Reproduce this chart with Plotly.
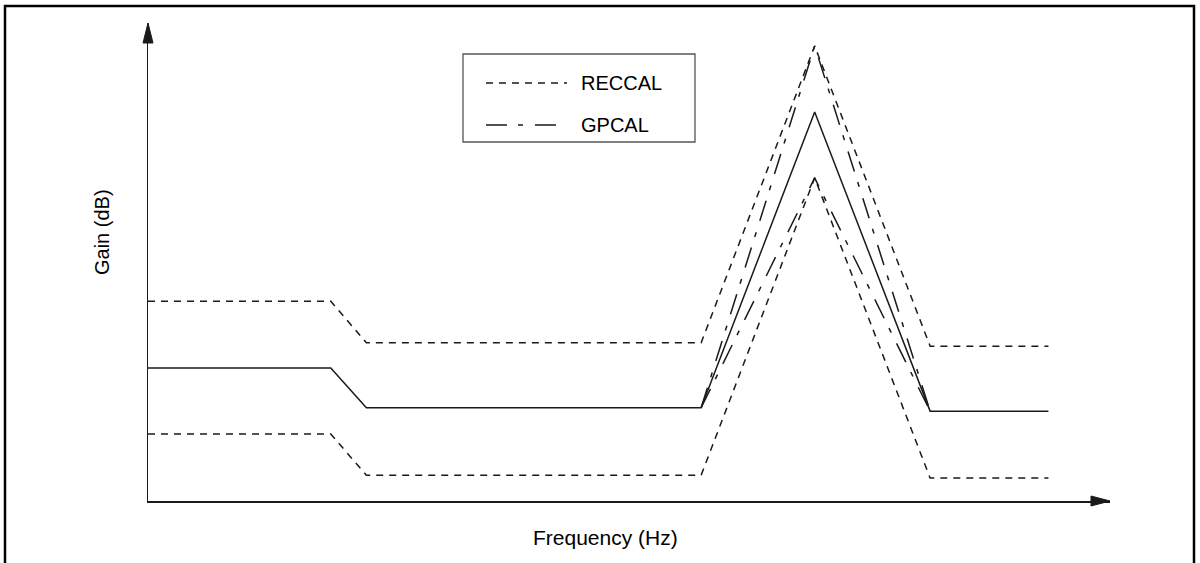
import plotly.graph_objects as go

# ---- data (arbitrary units) ----
freq = [0.0, 19.0, 22.7, 57.5, 69.3, 81.3, 93.6]
nominal = [27.8, 27.8, 19.5, 19.5, 81.4, 18.8, 18.8]
reccal_upper = [41.8, 41.8, 33.1, 33.1, 95.2, 32.4, 32.4]
reccal_lower = [14.0, 14.0, 5.4, 5.4, 67.6, 4.8, 4.8]

gp_freq = [57.5, 69.3, 81.3]
gpcal_upper = [19.5, 95.2, 18.8]
gpcal_lower = [19.5, 67.6, 18.8]

legend_labels = ["RECCAL", "GPCAL"]
x_title = "Frequency (Hz)"
y_title = "Gain (dB)"

INK = "#1a1a1a"
FONT = "Liberation Sans, Arial, sans-serif"
RECCAL_DASH = "7px,6px"
GPCAL_DASH = "21px,11px,5px,12px"

fig = go.Figure()
fig.add_trace(go.Scatter(x=freq, y=reccal_upper, mode="lines", name="RECCAL",
                         legendgroup="reccal", showlegend=False,
                         line=dict(color=INK, width=1.5, dash=RECCAL_DASH)))
fig.add_trace(go.Scatter(x=freq, y=reccal_lower, mode="lines", name="RECCAL",
                         legendgroup="reccal", showlegend=False,
                         line=dict(color=INK, width=1.5, dash=RECCAL_DASH)))
fig.add_trace(go.Scatter(x=gp_freq, y=gpcal_upper, mode="lines", name="GPCAL",
                         legendgroup="gpcal", showlegend=False,
                         line=dict(color=INK, width=1.5, dash=GPCAL_DASH)))
fig.add_trace(go.Scatter(x=gp_freq, y=gpcal_lower, mode="lines", name="GPCAL",
                         legendgroup="gpcal", showlegend=False,
                         line=dict(color=INK, width=1.5, dash=GPCAL_DASH)))
fig.add_trace(go.Scatter(x=freq, y=nominal, mode="lines", name="Nominal",
                         showlegend=False,
                         line=dict(color=INK, width=1.5)))

L, R, T, B = 148, 90, 23, 62
W, H = 1200, 563
pw, ph = W - L - R, H - T - B

def px_x(p):
    return (p - L) / pw

def px_y(p):
    return (H - B - p) / ph

shapes = [
    # outer frame
    dict(type="rect", xref="paper", yref="paper",
         x0=px_x(5), x1=px_x(1194), y0=px_y(575), y1=px_y(6),
         line=dict(color="black", width=2.5), fillcolor="rgba(0,0,0,0)", layer="below"),
    # arrowhead on x axis
    dict(type="path", xref="paper", yref="paper", xsizemode="pixel", ysizemode="pixel",
         xanchor=1, yanchor=0, path="M0,0 L-19,5 L-19,-5 Z",
         fillcolor=INK, line=dict(color=INK, width=1)),
    # arrowhead on y axis
    dict(type="path", xref="paper", yref="paper", xsizemode="pixel", ysizemode="pixel",
         xanchor=0, yanchor=1, path="M0,0 L-5,-20 L5,-20 Z",
         fillcolor=INK, line=dict(color=INK, width=1)),
    # legend box
    dict(type="rect", xref="paper", yref="paper",
         x0=px_x(463), x1=px_x(695), y0=px_y(142), y1=px_y(54),
         line=dict(color="#555555", width=1.3), fillcolor="white", layer="below"),
]
annotations = [
    dict(text=x_title, xref="paper", yref="paper", x=px_x(605), y=px_y(537),
         showarrow=False, xanchor="center", yanchor="middle",
         font=dict(family=FONT, size=21, color="black")),
    dict(text=y_title, xref="paper", yref="paper", x=px_x(102), y=px_y(232),
         showarrow=False, xanchor="center", yanchor="middle", textangle=-90,
         font=dict(family=FONT, size=20, color="black")),
]

# legend entries: sample line + label
legend_rows = [(83, RECCAL_DASH, 567), (125, GPCAL_DASH, 559)]
for label, (ypx, dash, xend) in zip(legend_labels, legend_rows):
    shapes.append(dict(type="line", xref="paper", yref="paper",
                       x0=px_x(486), x1=px_x(xend), y0=px_y(ypx), y1=px_y(ypx),
                       line=dict(color=INK, width=1.5, dash=dash)))
    annotations.append(dict(text=label, xref="paper", yref="paper",
                            x=px_x(579), y=px_y(ypx), showarrow=False,
                            xanchor="left", yanchor="middle",
                            font=dict(family=FONT, size=20, color="black")))

fig.update_layout(
    width=W, height=H, autosize=False,
    margin=dict(l=L, r=R, t=T, b=B, pad=0),
    paper_bgcolor="white", plot_bgcolor="white",
    font=dict(family=FONT, size=20, color="black"),
    xaxis=dict(range=[0, 100], showgrid=False, zeroline=False, showticklabels=False,
               ticks="", showline=True, linecolor=INK, linewidth=1.5, fixedrange=True),
    yaxis=dict(range=[0, 100], showgrid=False, zeroline=False, showticklabels=False,
               ticks="", showline=True, linecolor=INK, linewidth=1.5, fixedrange=True),
    showlegend=False,
    hovermode=False,
    shapes=shapes,
    annotations=annotations,
)

fig.write_html("out.html",
               config={"displayModeBar": False, "staticPlot": True},
               post_script="document.body.style.margin='0px';document.body.style.padding='0px';")
